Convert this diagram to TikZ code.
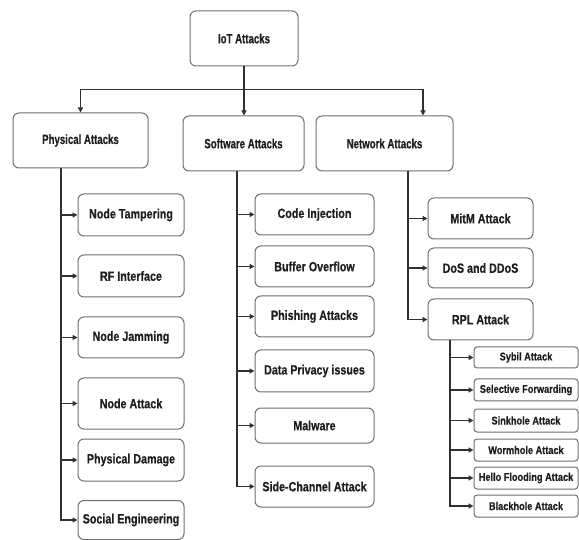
\documentclass[tikz,border=0pt]{standalone}
\usepackage{fontspec}
\setmainfont{Liberation Sans}[FakeStretch=0.8,FakeBold=0.4]
\newfontfamily\topfont{Liberation Sans}[FakeStretch=0.72,FakeBold=0.4]
\newfontfamily\subfont{Liberation Sans}[FakeStretch=0.82,FakeBold=0.3]
\definecolor{edge}{HTML}{707070}
\definecolor{ink}{HTML}{1E1E1E}
\definecolor{wire}{HTML}{303030}
\usetikzlibrary{arrows.meta}
\tikzset{
  box/.style={draw=edge, fill=white, rounded corners=6pt, align=center, text=ink, inner sep=0pt,
              line width=1pt, font=\fontsize{13.4}{15}\selectfont\bfseries},
  topbox/.style={box, font=\topfont\fontsize{13.4}{15}\selectfont\bfseries},
  subbox/.style={box, rounded corners=3pt, minimum width=104pt, font=\subfont\fontsize{11.2}{13}\selectfont\bfseries},
  wireline/.style={wire, line width=1.3pt},
  flow/.style={wireline, -{Triangle[length=5pt,width=5pt]}},
}

\begin{document}
\begin{tikzpicture}[x=1pt,y=-1pt,
        phy/.style={box,minimum width=106pt},
        sw/.style={box,minimum width=119pt},
        nw/.style={box,minimum width=105pt}]
        \useasboundingbox (0,0) rectangle (579,540);
        % top levels
        \node[topbox,minimum width=108pt,minimum height=55pt] (iot) at (244,38.5) {IoT Attacks};
        \node[topbox,minimum width=135pt,minimum height=55pt] (phys) at (80.5,140.5) {Physical Attacks};
        \node[topbox,minimum width=121pt,minimum height=55pt] (soft) at (243.5,143.5) {Software Attacks};
        \node[topbox,minimum width=137pt,minimum height=55pt] (net) at (384.5,143.5) {Network Attacks};
        \draw[wireline] (iot.south) -- ++(0,23) coordinate (hub);
        \draw[flow] (hub) -| (phys.north);
        \draw[flow] (hub) -- (hub |- soft.north);
        \draw[flow] (hub) -| ([xshift=38.5pt]net.north);
        % physical
        \node[phy,minimum height=42pt] (tamper) at (131,215) {Node Tampering};
        \node[phy,minimum height=42pt] (rf) at (131,276) {RF Interface};
        \node[phy,minimum height=41pt] (jam) at (131,337.5) {Node Jamming};
        \node[phy,minimum height=51pt] (nattack) at (131,403.5) {Node Attack};
        \node[phy,minimum height=42pt] (damage) at (131,460) {Physical Damage};
        \node[phy,minimum height=39pt] (social) at (131,520) {Social Engineering};
        \coordinate (ptrunk) at (61,168);
        \draw[flow] (ptrunk) |- (social.west);
        \draw[flow] (ptrunk |- tamper.west) -- (tamper.west);
        \draw[flow] (ptrunk |- rf.west) -- (rf.west);
        \draw[flow] (ptrunk |- jam.west) -- (jam.west);
        \draw[flow] (ptrunk |- nattack.west) -- (nattack.west);
        \draw[flow] (ptrunk |- damage.west) -- (damage.west);
        % software
        \node[sw,minimum height=41pt] (inject) at (314.5,214.5) {Code Injection};
        \node[sw,minimum height=41pt] (buffer) at (314.5,266.5) {Buffer Overflow};
        \node[sw,minimum height=41pt] (phish) at (314.5,316.5) {Phishing Attacks};
        \node[sw,minimum height=42pt] (privacy) at (314.5,371) {Data Privacy issues};
        \node[sw,minimum height=35pt] (malware) at (314.5,425.5) {Malware};
        \node[sw,minimum height=41pt] (side) at (314.5,486.5) {Side-Channel Attack};
        \coordinate (strunk) at (237,171);
        \draw[flow] (strunk) |- (side.west);
        \draw[flow] (strunk |- inject.west) -- (inject.west);
        \draw[flow] (strunk |- buffer.west) -- (buffer.west);
        \draw[flow] (strunk |- phish.west) -- (phish.west);
        \draw[flow] (strunk |- privacy.west) -- (privacy.west);
        \draw[flow] (strunk |- malware.west) -- (malware.west);
        % network
        \node[nw,minimum height=41pt] (mitm) at (480.5,218.5) {MitM Attack};
        \node[nw,minimum height=40pt] (dos) at (480.5,268) {DoS and DDoS};
        \node[nw,minimum height=41pt] (rpl) at (480.5,319.5) {RPL Attack};
        \coordinate (ntrunk) at (408,171);
        \draw[flow] (ntrunk) |- (rpl.west);
        \draw[flow] (ntrunk |- mitm.west) -- (mitm.west);
        \draw[flow] (ntrunk |- dos.west) -- (dos.west);
        % rpl
        \node[subbox,minimum height=21pt] (sybil) at (526,357.5) {Sybil Attack};
        \node[subbox,minimum height=22pt] (select) at (526,390) {Selective Forwarding};
        \node[subbox,minimum height=23pt] (sink) at (526,420.5) {Sinkhole Attack};
        \node[subbox,minimum height=22pt] (worm) at (526,450) {Wormhole Attack};
        \node[subbox,minimum height=22pt] (hello) at (526,478) {Hello Flooding Attack};
        \node[subbox,minimum height=22pt] (black) at (526,506) {Blackhole Attack};
        \coordinate (rtrunk) at (450,340);
        \draw[flow] (rtrunk) |- (black.west);
        \draw[flow] (rtrunk |- sybil.west) -- (sybil.west);
        \draw[flow] (rtrunk |- select.west) -- (select.west);
        \draw[flow] (rtrunk |- sink.west) -- (sink.west);
        \draw[flow] (rtrunk |- worm.west) -- (worm.west);
        \draw[flow] (rtrunk |- hello.west) -- (hello.west);
\end{tikzpicture}
\end{document}
